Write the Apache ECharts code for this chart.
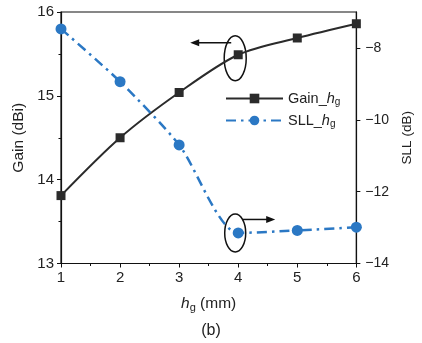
<!DOCTYPE html>
<html>
<head>
<meta charset="utf-8">
<script src="https://cdn.jsdelivr.net/npm/echarts@6/dist/echarts.min.js"></script>
<style>
  html, body { margin: 0; padding: 0; background: #fff; }
  #c { width: 422px; height: 343px; }
</style>
</head>
<body>
<div id="c"></div>
<script>
// Gain and side-lobe level versus ground height h_g
const hg = [1, 2, 3, 4, 5, 6];
const gain = [13.81, 14.50, 15.04, 15.49, 15.69, 15.86];
const sll = [-7.47, -8.94, -10.70, -13.15, -13.08, -12.99];
const gainTickLabels = ['13', '14', '15', '16'];
const sllTickLabels = ['\u221214', '\u221212', '\u221210', '\u22128'];

const FONT = 'Arial, "Liberation Sans", sans-serif';
const BLACK = '#2b2b2b';
const BLUE = '#2b78c4';
const TEXT = '#222';

const chart = echarts.init(document.getElementById('c'), null, { renderer: 'canvas' });

function richSub(size) {
  return {
    t: { fontSize: size, color: TEXT, fontFamily: FONT },
    i: { fontSize: size, color: TEXT, fontFamily: FONT, fontStyle: 'italic' },
    s: { fontSize: Math.round(size * 0.7), color: TEXT, fontFamily: FONT,
         verticalAlign: 'bottom', padding: [Math.round(size * 0.5), 0, 0, 0] }
  };
}

const axisCommon = {
  axisLine: { show: true, lineStyle: { color: '#111', width: 1.2 } },
  axisTick: { show: true, inside: false, length: 4, lineStyle: { color: '#111', width: 1 } },
  splitLine: { show: false },
  axisLabel: { color: TEXT, fontSize: 15, fontFamily: FONT }
};

const baseGraphic = [
  { type: 'text', left: 'center', top: 323,
    style: { text: '(b)', fontSize: 16, fontFamily: FONT, fill: TEXT } }
];

chart.setOption({
  animation: false,
  backgroundColor: '#fff',
  grid: { left: 61, right: 58, top: 12, bottom: 79.5, containLabel: false,
          show: true, borderColor: '#111', borderWidth: 1.2 },
  legend: {
    left: 225, top: 91, orient: 'vertical', padding: 0,
    itemWidth: 57, itemHeight: 12, itemGap: 6,
    textStyle: { rich: richSub(14.5) },
    formatter: name => name === 'Gain_hg' ? '{t|Gain_}{i|h}{s|g}' : '{t|SLL_}{i|h}{s|g}',
    data: ['Gain_hg', 'SLL_hg']
  },
  xAxis: Object.assign({}, axisCommon, {
    type: 'value', min: 1, max: 6, interval: 1,
    minorTick: { show: true, splitNumber: 2, length: 2.5, lineStyle: { color: '#111' } },
    axisLabel: Object.assign({}, axisCommon.axisLabel, { margin: 7 }),
    name: '{i|h}{s|g}{t| (mm)}', nameLocation: 'middle', nameGap: 31,
    nameTextStyle: { rich: richSub(15.5) }
  }),
  yAxis: [
    Object.assign({}, axisCommon, {
      type: 'value', min: 13, max: 16, interval: 1,
      minorTick: { show: true, splitNumber: 2, length: 2.5, lineStyle: { color: '#111' } },
      axisLabel: Object.assign({}, axisCommon.axisLabel, {
        margin: 7, formatter: v => gainTickLabels[Math.round(v - 13)]
      }),
      name: 'Gain (dBi)', nameLocation: 'middle', nameGap: 24.5, nameRotate: 90,
      nameTextStyle: { fontSize: 15.5, color: TEXT, fontFamily: FONT }
    }),
    Object.assign({}, axisCommon, {
      type: 'value', min: -14, max: -7, interval: 2, position: 'right',
      axisLabel: Object.assign({}, axisCommon.axisLabel, {
        fontSize: 14, margin: 9, showMaxLabel: false,
        formatter: v => {
          const k = Math.round((v + 14) / 2);
          return (v === -7) ? '' : (sllTickLabels[k] || '');
        }
      }),
      name: 'SLL (dB)', nameLocation: 'middle', nameGap: 38, nameRotate: 90,
      nameTextStyle: { fontSize: 13.5, color: TEXT, fontFamily: FONT }
    })
  ],
  series: [
    {
      name: 'Gain_hg', type: 'line', yAxisIndex: 0, smooth: 0.3,
      data: hg.map((x, i) => [x, gain[i]]),
      symbol: 'rect', symbolSize: 9,
      itemStyle: { color: BLACK },
      lineStyle: { color: BLACK, width: 2 }
    },
    {
      name: 'SLL_hg', type: 'line', yAxisIndex: 1, smooth: 0.25,
      data: hg.map((x, i) => [x, sll[i]]),
      symbol: 'circle', symbolSize: 11,
      itemStyle: { color: BLUE },
      lineStyle: { color: BLUE, width: 2.5, type: [10, 5, 2.5, 5] }
    }
  ],
  graphic: baseGraphic
});

// Annotations: ellipses around the h_g = 4 points and arrows pointing to each axis
function arrowHead(tipX, tipY, dir) {
  const L = 9, H = 3.5;
  return {
    type: 'polygon',
    shape: { points: [[tipX, tipY], [tipX - dir * L, tipY - H], [tipX - dir * L, tipY + H]] },
    style: { fill: '#111' }
  };
}
const pG = chart.convertToPixel({ xAxisIndex: 0, yAxisIndex: 0 }, [4, gain[3]]);
const pS = chart.convertToPixel({ xAxisIndex: 0, yAxisIndex: 1 }, [4, sll[3]]);
const strokeStyle = { stroke: '#111', lineWidth: 1.5, fill: null };
chart.setOption({
  graphic: baseGraphic.concat([
    { type: 'ellipse', shape: { cx: pG[0] - 3, cy: pG[1] + 3.5, rx: 11, ry: 22.5 }, style: strokeStyle },
    { type: 'line', shape: { x1: pG[0] - 7, y1: pG[1] - 12, x2: pG[0] - 45, y2: pG[1] - 12 }, style: strokeStyle },
    arrowHead(pG[0] - 48, pG[1] - 12, -1),
    { type: 'ellipse', shape: { cx: pS[0] - 3, cy: pS[1], rx: 10.5, ry: 19 }, style: strokeStyle },
    { type: 'line', shape: { x1: pS[0] + 4, y1: pS[1] - 13.5, x2: pS[0] + 33, y2: pS[1] - 13.5 }, style: strokeStyle },
    arrowHead(pS[0] + 37, pS[1] - 13.5, 1)
  ])
});
</script>
</body>
</html>
